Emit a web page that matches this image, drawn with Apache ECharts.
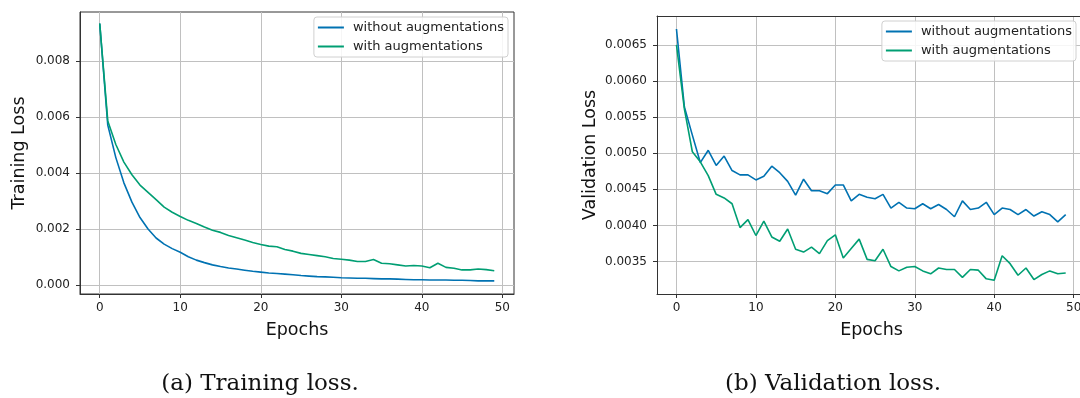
<!DOCTYPE html>
<html>
<head>
<meta charset="utf-8">
<script src="https://cdn.jsdelivr.net/npm/echarts@6/dist/echarts.min.js"></script>
<style>
html,body{margin:0;padding:0;background:#fff;}
#chart{width:1080px;height:398px;}
</style>
</head>
<body>
<div id="chart"></div>
<script>
const epochs = [0,1,2,3,4,5,6,7,8,9,10,11,12,13,14,15,16,17,18,19,20,21,22,23,24,25,26,27,28,29,30,31,32,33,34,35,36,37,38,39,40,41,42,43,44,45,46,47,48,49];
const seriesNames = ['without augmentations', 'with augmentations'];
const trainWithout = [0.00935,0.00572,0.00456,0.00366,0.00297,0.00242,0.00201,0.00169,0.00147,0.00131,0.00118,0.00102,0.00090,0.00081,0.00073,0.00067,0.00062,0.00058,0.00054,0.00050,0.00047,0.00044,0.00042,0.00040,0.00038,0.00035,0.00033,0.00031,0.00030,0.00029,0.00027,0.00026,0.00025,0.00025,0.00024,0.00023,0.00023,0.00022,0.00021,0.00020,0.00020,0.00019,0.00019,0.00019,0.00018,0.00018,0.00017,0.00016,0.00016,0.00016];
const trainWith = [0.00935,0.00587,0.00503,0.00440,0.00395,0.00358,0.00332,0.00306,0.00279,0.00261,0.00246,0.00232,0.00221,0.00208,0.00197,0.00189,0.00178,0.00170,0.00162,0.00153,0.00146,0.00140,0.00138,0.00128,0.00122,0.00114,0.00110,0.00106,0.00102,0.00096,0.00093,0.00090,0.00085,0.00085,0.00092,0.00079,0.00077,0.00073,0.00069,0.00071,0.00069,0.00063,0.00079,0.00064,0.00061,0.00055,0.00055,0.00058,0.00056,0.00052];
const valWithout = [0.00672,0.00564,0.00525,0.00487,0.00504,0.00483,0.00496,0.00476,0.00470,0.00470,0.00463,0.00468,0.00482,0.00473,0.00461,0.00442,0.00464,0.00448,0.00448,0.00444,0.00456,0.00456,0.00434,0.00443,0.00439,0.00437,0.00443,0.00424,0.00432,0.00424,0.00423,0.00430,0.00423,0.00429,0.00422,0.00412,0.00434,0.00422,0.00424,0.00432,0.00415,0.00424,0.00422,0.00415,0.00422,0.00413,0.00419,0.00415,0.00405,0.00415];
const valWith = [0.00650,0.00561,0.00502,0.00488,0.00469,0.00443,0.00438,0.00430,0.00397,0.00408,0.00386,0.00406,0.00384,0.00378,0.00395,0.00367,0.00363,0.00370,0.00361,0.00379,0.00387,0.00355,0.00368,0.00381,0.00353,0.00351,0.00367,0.00343,0.00337,0.00342,0.00343,0.00337,0.00333,0.00341,0.00339,0.00339,0.00328,0.00339,0.00338,0.00326,0.00324,0.00358,0.00347,0.00331,0.00341,0.00325,0.00332,0.00337,0.00333,0.00334];
const xTicks = [0,10,20,30,40,50];
const trainTicks = [0,0.002,0.004,0.006,0.008];
const valTicks = [0.0035,0.0040,0.0045,0.0050,0.0055,0.0060,0.0065];
const captions = ['(a) Training loss.', '(b) Validation loss.'];
const axisTitles = ['Training Loss', 'Validation Loss', 'Epochs'];

const colors = ['#0072B2', '#009E73'];
const FONT = 'DejaVu Sans';
const gridColor = '#c0c0c0';
const frame = {show:true, onZero:false, lineStyle:{color:'#333', width:1}};

function pairs(xs, ys){ return xs.map((x,i)=>[x, ys[i]]); }

function xAxis(gi, max, namePad){
  return {
    type:'value', gridIndex:gi, min:-2.45, max:max,
    name: axisTitles[2], nameLocation:'middle', nameGap:27,
    nameTextStyle:{fontFamily:FONT, fontSize:17.5, color:'#111', padding:namePad},
    axisLine:frame,
    axisTick:{show:true, inside:false, length:4, customValues:xTicks, lineStyle:{color:'#333', width:1}},
    axisLabel:{customValues:xTicks, fontFamily:FONT, fontSize:12, color:'#222', margin:8},
    splitLine:{show:true, lineStyle:{color:gridColor, width:1}}
  };
}
function topAxis(gi, max){
  return {
    type:'value', gridIndex:gi, min:-2.45, max:max, position:'top',
    axisLine:frame, axisTick:{show:false}, axisLabel:{show:false}, splitLine:{show:false}
  };
}
function yAxis(gi, min, max, ticks, dec, name, gap){
  return {
    type:'value', gridIndex:gi, min:min, max:max, position:'left',
    name:name, nameLocation:'middle', nameGap:gap,
    nameTextStyle:{fontFamily:FONT, fontSize:17.5, color:'#111'},
    axisLine:frame,
    axisTick:{show:true, inside:false, length:4, customValues:ticks, lineStyle:{color:'#333', width:1}},
    axisLabel:{customValues:ticks, fontFamily:FONT, fontSize:12, color:'#222', margin:10,
      formatter:v=>v.toFixed(dec)},
    splitLine:{show:true, lineStyle:{color:gridColor, width:1}}
  };
}
function line(name, gi, ys, ci){
  return {
    name:name, type:'line', xAxisIndex:gi, yAxisIndex:gi,
    data:pairs(epochs, ys), symbol:'none', showSymbol:false,
    lineStyle:{color:colors[ci], width:1.6}, itemStyle:{color:colors[ci]},
    z: 3 + ci, animation:false
  };
}
function legend(right, top){
  return {
    data:seriesNames, orient:'vertical', right:right, top:top,
    icon:'rect', itemWidth:26, itemHeight:2, itemGap:6,
    backgroundColor:'rgba(255,255,255,0.85)', borderColor:'#d0d0d0', borderWidth:1, borderRadius:3,
    padding:[4,4,4,4],
    textStyle:{fontFamily:FONT, fontSize:13, color:'#222', padding:[0,0,0,4]},
    selectedMode:false
  };
}

const chart = echarts.init(document.getElementById('chart'), null, {renderer:'canvas'});
chart.setOption({
  animation:false,
  backgroundColor:'#fff',
  grid:[
    {left:80, top:12, width:434, height:282, show:true, borderColor:'#333', borderWidth:1, backgroundColor:'transparent', outerBoundsMode:'none', containLabel:false},
    {left:657, top:16, width:423, height:278, show:false, outerBoundsMode:'none', containLabel:false}
  ],
  xAxis:[xAxis(0, 51.45, [0,0,0,0]), xAxis(1, 50.8, [0,0,0,6]), topAxis(1, 50.8)],
  yAxis:[
    yAxis(0, -0.00031, 0.00976, trainTicks, 3, axisTitles[0], 52),
    yAxis(1, 0.00305, 0.0069, valTicks, 4, axisTitles[1], 58)
  ],
  legend:[legend(572, 17), legend(4, 21)],
  series:[
    line(seriesNames[0], 0, trainWithout, 0),
    line(seriesNames[1], 0, trainWith, 1),
    line(seriesNames[0], 1, valWithout, 0),
    line(seriesNames[1], 1, valWith, 1)
  ],
  graphic:[
    {type:'text', style:{text:captions[0], x:260, y:384, align:'center', verticalAlign:'middle', font:'23px "DejaVu Serif"', fill:'#111'}},
    {type:'text', style:{text:captions[1], x:833, y:384, align:'center', verticalAlign:'middle', font:'23px "DejaVu Serif"', fill:'#111'}}
  ]
});
</script>
</body>
</html>
